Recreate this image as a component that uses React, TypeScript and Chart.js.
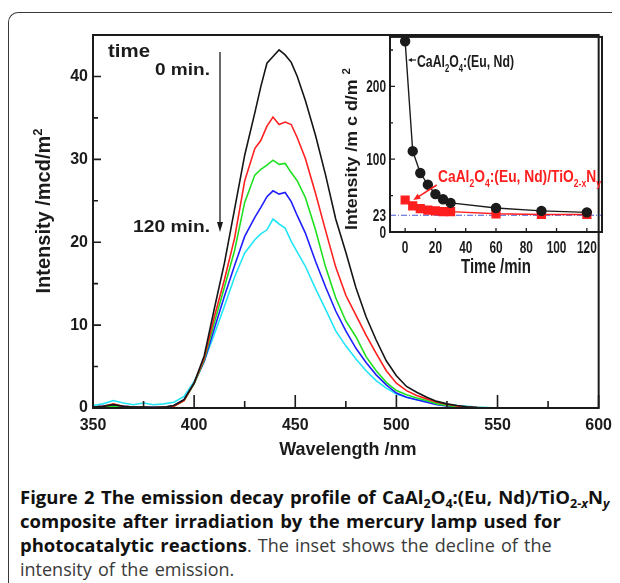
import React, { useEffect, useRef } from "react";
import { Chart, registerables } from "chart.js";

Chart.register(...registerables);

// ---------- main chart data (emission spectra) ----------
const wavelengths = [350, 355, 360, 365, 370, 375, 380, 385, 390, 395, 400, 405, 410, 415, 420, 425, 430, 433, 436, 439, 442, 445, 448, 451, 455, 460, 465, 470, 475, 480, 485, 490, 495, 500, 505, 510, 515, 520, 525, 530, 535, 540, 545, 550];

const blackSpectrum = [0.1, 0.2, 0.4, 0.2, 0.1, 0.1, 0.05, 0.1, 0.3, 1.0, 3.0, 6.3, 12.0, 17.5, 24.0, 30.5, 35.6, 38.8, 41.6, 42.4, 43.2, 42.6, 41.7, 40.0, 37.1, 32.9, 28.1, 22.8, 18.8, 14.5, 11.0, 8.2, 5.7, 3.9, 2.6, 1.9, 1.3, 0.8, 0.5, 0.3, 0.15, 0.05, 0, 0];
const redSpectrum = [0.1, 0.2, 0.5, 0.2, 0.1, 0.05, 0.05, 0.1, 0.2, 0.9, 3.0, 6.0, 11.0, 15.5, 20.5, 27.4, 31.3, 32.3, 34.0, 35.1, 34.2, 34.5, 34.2, 32.6, 30.1, 25.9, 21.4, 17.0, 13.6, 11.2, 8.8, 6.6, 4.5, 3.0, 2.1, 1.5, 1.1, 0.7, 0.45, 0.25, 0.1, 0.05, 0, 0];
const greenSpectrum = [0.05, 0.1, 0.2, 0.1, 0.05, 0.05, 0.05, 0.05, 0.2, 0.9, 2.9, 5.8, 10.3, 14.6, 19.0, 24.8, 28.1, 28.8, 29.3, 29.9, 29.4, 29.5, 28.4, 27.4, 25.4, 21.5, 17.0, 13.3, 10.5, 8.6, 6.2, 4.5, 3.1, 2.1, 1.6, 1.2, 0.9, 0.5, 0.3, 0.15, 0.05, 0, 0, 0];
const blueSpectrum = [0.1, 0.2, 0.3, 0.2, 0.1, 0.1, 0.1, 0.1, 0.3, 1.0, 3.0, 5.6, 9.6, 13.5, 17.2, 20.7, 23.0, 24.2, 25.5, 26.2, 25.8, 26.0, 24.9, 23.2, 21.1, 17.7, 14.6, 11.7, 9.3, 7.2, 5.5, 4.0, 2.8, 1.8, 1.3, 1.0, 0.7, 0.4, 0.25, 0.1, 0.05, 0, 0, 0];
const cyanSpectrum = [0.3, 0.5, 0.9, 0.6, 0.4, 0.6, 0.4, 0.5, 0.7, 1.4, 3.2, 5.7, 8.9, 12.3, 15.8, 18.7, 20.3, 21.0, 21.5, 22.8, 22.2, 21.7, 20.1, 18.8, 17.1, 14.4, 11.9, 9.3, 7.5, 5.9, 4.5, 3.3, 2.4, 1.7, 1.3, 1.0, 0.8, 0.6, 0.45, 0.3, 0.2, 0.1, 0.05, 0];

const spectraColors = ["#161616", "#ff2020", "#1fe01f", "#1f1fff", "#22e6f5"];

const xTickValues = [350, 400, 450, 500, 550, 600];
const xMinorTicks = [375, 425, 475, 525, 575];
const yTickValues = [0, 10, 20, 30, 40];
const yMinorTicks = [5, 15, 25, 35];

// ---------- inset data (intensity decline) ----------
const insetTimes = [0, 5, 10, 15, 20, 25, 30, 60, 90, 120];
const undopedIntensity = [262, 111, 81, 65, 52, 45, 40, 33, 29, 27];
const compositeIntensity = [44, 36, 32, 30, 29, 28, 28, 25, 24, 24];
const referenceLevel = 23;
const insetXTicks = [0, 20, 40, 60, 80, 100, 120];
const insetYTicks = [0, 23, 100, 200];
const insetYMajor = [100, 200];
const insetYMinor = [50, 150, 250];

const INK = "#1b1b1b";
const FONT = '"Liberation Sans", Arial, Helvetica, sans-serif';

type Part = [string, number]; // 0 normal, 1 subscript, 2 superscript

interface RichOpts {
  size: number;
  color: string;
  weight?: string;
  align?: "left" | "center" | "right";
  fit?: number;
  sx?: number;
  rotate?: number;
  spacing?: number;
}

function drawRich(ctx: CanvasRenderingContext2D, parts: Part[], x: number, y: number, o: RichOpts) {
  const w = o.weight ?? "bold";
  const f = (k: number) => `${w} ${k === 0 ? o.size : Math.round(o.size * 0.65)}px ${FONT}`;
  ctx.save();
  (ctx as any).letterSpacing = `${o.spacing ?? 0}px`;
  let nat = 0;
  for (const [t, k] of parts) {
    ctx.font = f(k);
    nat += ctx.measureText(t).width;
  }
  const sx = o.fit ? o.fit / nat : o.sx ?? 1;
  ctx.translate(x, y);
  if (o.rotate) ctx.rotate(o.rotate);
  ctx.scale(sx, 1);
  let cx = o.align === "center" ? -nat / 2 : o.align === "right" ? -nat : 0;
  ctx.fillStyle = o.color;
  ctx.textBaseline = "alphabetic";
  ctx.textAlign = "left";
  for (const [t, k] of parts) {
    ctx.font = f(k);
    const dy = k === 1 ? o.size * 0.3 : k === 2 ? -o.size * 0.42 : 0;
    ctx.fillText(t, cx, dy);
    cx += ctx.measureText(t).width;
  }
  ctx.restore();
}

function arrowHead(ctx: CanvasRenderingContext2D, fx: number, fy: number, tx: number, ty: number, len: number, half: number) {
  const a = Math.atan2(ty - fy, tx - fx);
  ctx.beginPath();
  ctx.moveTo(tx, ty);
  ctx.lineTo(tx - len * Math.cos(a) + half * Math.sin(a), ty - len * Math.sin(a) - half * Math.cos(a));
  ctx.lineTo(tx - len * Math.cos(a) - half * Math.sin(a), ty - len * Math.sin(a) + half * Math.cos(a));
  ctx.closePath();
  ctx.fill();
}

const mainDecor = {
  id: "mainDecor",
  afterDraw(chart: any) {
    const { ctx, chartArea: a, scales } = chart;
    const x = scales.x;
    const y = scales.y;
    ctx.save();
    ctx.strokeStyle = INK;
    ctx.lineWidth = 2;
    ctx.strokeRect(a.left, a.top, a.right - a.left, a.bottom - a.top);
    ctx.lineWidth = 1.6;
    ctx.beginPath();
    xTickValues.forEach((v) => {
      const p = x.getPixelForValue(v);
      ctx.moveTo(p, a.bottom);
      ctx.lineTo(p, a.bottom - 13);
    });
    xMinorTicks.forEach((v) => {
      const p = x.getPixelForValue(v);
      ctx.moveTo(p, a.bottom);
      ctx.lineTo(p, a.bottom - 7);
    });
    yTickValues.forEach((v) => {
      const p = y.getPixelForValue(v);
      ctx.moveTo(a.left, p);
      ctx.lineTo(a.left + 8, p);
    });
    yMinorTicks.forEach((v) => {
      const p = y.getPixelForValue(v);
      ctx.moveTo(a.left, p);
      ctx.lineTo(a.left + 5, p);
    });
    ctx.stroke();

    // axis titles
    drawRich(ctx, [["Wavelength /nm", 0]], (a.left + a.right) / 2 + 2, 442, { size: 18, color: INK, align: "center" });
    drawRich(ctx, [["Intensity /mcd/m", 0], ["2", 2]], 41, 198, { size: 20, color: INK, align: "center", rotate: -Math.PI / 2 });

    // time annotation
    drawRich(ctx, [["time", 0]], 99, 44, { size: 18, color: INK, fit: 42 });
    drawRich(ctx, [["0 min.", 0]], 146, 62, { size: 17, color: INK, fit: 55 });
    drawRich(ctx, [["120 min.", 0]], 124, 219, { size: 17, color: INK, fit: 77 });
    ctx.strokeStyle = INK;
    ctx.fillStyle = INK;
    ctx.lineWidth = 1.3;
    ctx.beginPath();
    ctx.moveTo(211, 39);
    ctx.lineTo(211, 212);
    ctx.stroke();
    arrowHead(ctx, 211, 39, 211, 219, 10, 3);
    ctx.restore();
  },
};

const insetDecor = {
  id: "insetDecor",
  afterDraw(chart: any) {
    const { ctx, chartArea: a, scales } = chart;
    const x = scales.x;
    const y = scales.y;
    ctx.save();
    ctx.strokeStyle = INK;
    ctx.lineWidth = 2;
    ctx.strokeRect(a.left, a.top, a.right - a.left, a.bottom - a.top);
    ctx.lineWidth = 1.3;
    ctx.beginPath();
    insetXTicks.forEach((v) => {
      const p = x.getPixelForValue(v);
      ctx.moveTo(p, a.bottom);
      ctx.lineTo(p, a.bottom - 4);
    });
    insetYMajor.forEach((v) => {
      const p = y.getPixelForValue(v);
      ctx.moveTo(a.left, p);
      ctx.lineTo(a.left + 5, p);
    });
    insetYMinor.forEach((v) => {
      const p = y.getPixelForValue(v);
      ctx.moveTo(a.left, p);
      ctx.lineTo(a.left + 3, p);
    });
    ctx.stroke();

    insetXTicks.forEach((v) => {
      drawRich(ctx, [[String(v), 0]], x.getPixelForValue(v), a.bottom + 21, { size: 16, color: INK, align: "center", sx: 0.74 });
    });
    insetYTicks.forEach((v) => {
      drawRich(ctx, [[String(v), 0]], a.left - 4, y.getPixelForValue(v) + 6, { size: 16, color: INK, align: "right", sx: 0.74 });
    });

    drawRich(ctx, [["Time /min", 0]], (a.left + a.right) / 2, 243, { size: 20, color: INK, align: "center", fit: 70 });
    drawRich(ctx, [["Intensity /m c d/m ", 0], ["2", 2]], 22, 119, { size: 17, color: INK, align: "center", rotate: -Math.PI / 2, fit: 162 });

    // black annotation
    ctx.strokeStyle = INK;
    ctx.fillStyle = INK;
    ctx.lineWidth = 1.2;
    ctx.beginPath();
    ctx.moveTo(81, 30);
    ctx.lineTo(76, 30);
    ctx.stroke();
    arrowHead(ctx, 81, 30, 73, 30, 4, 2);
    drawRich(ctx, [["CaAl", 0], ["2", 1], ["O", 0], ["4", 1], [":(Eu, Nd)", 0]], 82, 37, { size: 16, color: INK, fit: 97 });

    // red annotation
    ctx.strokeStyle = "#ff1e1e";
    ctx.fillStyle = "#ff1e1e";
    ctx.lineWidth = 1.5;
    ctx.beginPath();
    ctx.moveTo(101.7, 155);
    ctx.lineTo(82, 167.6);
    ctx.stroke();
    arrowHead(ctx, 101.7, 155, 78.3, 170, 7, 3);
    drawRich(ctx, [["CaAl", 0], ["2", 1], ["O", 0], ["4", 1], [":(Eu, Nd)/TiO", 0], ["2-x", 1], ["N", 0], ["y", 1]], 103, 152, { size: 16, color: "#ff1e1e", fit: 163 });
    ctx.restore();
  },
};

export default function App() {
  const mainRef = useRef<HTMLCanvasElement>(null);
  const insetRef = useRef<HTMLCanvasElement>(null);

  useEffect(() => {
    document.documentElement.style.overflow = "hidden";
    const series = [blackSpectrum, redSpectrum, greenSpectrum, blueSpectrum, cyanSpectrum];
    const tickFont = { family: FONT, size: 16, weight: "bold" as const };
    const main = new Chart(mainRef.current!, {
      type: "line",
      data: {
        datasets: series.map((vals, si) => ({
          data: wavelengths.map((w, i) => ({ x: w, y: vals[i] })),
          borderColor: spectraColors[si],
          borderWidth: 1.6,
          pointRadius: 0,
          fill: false,
          tension: 0,
        })),
      },
      options: {
        responsive: false,
        animation: false,
        events: [],
        layout: { padding: { left: 0, top: 22, right: 18, bottom: 0 } },
        plugins: { legend: { display: false }, tooltip: { enabled: false } },
        scales: {
          x: {
            type: "linear",
            min: 350,
            max: 600,
            afterBuildTicks: (s: any) => {
              s.ticks = xTickValues.map((v) => ({ value: v }));
            },
            afterFit: (s: any) => {
              s.height = 55;
            },
            grid: { display: false, drawTicks: false },
            border: { display: false },
            ticks: { font: tickFont, color: INK, padding: 8, maxRotation: 0, autoSkip: false },
          },
          y: {
            type: "linear",
            min: 0,
            max: 45,
            afterBuildTicks: (s: any) => {
              s.ticks = yTickValues.map((v) => ({ value: v }));
            },
            afterFit: (s: any) => {
              s.width = 84;
            },
            grid: { display: false, drawTicks: false },
            border: { display: false },
            ticks: { font: tickFont, color: INK, padding: 5, autoSkip: false },
          },
        },
      },
      plugins: [mainDecor],
    });

    const inset = new Chart(insetRef.current!, {
      type: "line",
      data: {
        datasets: [
          {
            data: insetTimes.map((t, i) => ({ x: t, y: undopedIntensity[i] })),
            borderColor: INK,
            backgroundColor: INK,
            borderWidth: 1.4,
            pointRadius: 4.5,
            pointStyle: "circle",
            tension: 0,
          },
          {
            data: insetTimes.map((t, i) => ({ x: t, y: compositeIntensity[i] })),
            borderColor: "#ff1e1e",
            backgroundColor: "#ff1e1e",
            borderWidth: 1.4,
            pointRadius: 5.5,
            pointStyle: "rect",
            tension: 0,
          },
          {
            data: [
              { x: -10, y: referenceLevel },
              { x: 130, y: referenceLevel },
            ],
            borderColor: "#4a5ad8",
            borderWidth: 1.2,
            borderDash: [6, 2, 1, 2],
            pointRadius: 0,
          },
        ],
      },
      options: {
        responsive: false,
        animation: false,
        events: [],
        layout: { padding: { left: 55, top: 5, right: 8, bottom: 48 } },
        plugins: { legend: { display: false }, tooltip: { enabled: false } },
        scales: {
          x: { type: "linear", display: false, min: -10, max: 130 },
          y: { type: "linear", display: false, min: 0, max: 268 },
        },
      },
      plugins: [insetDecor],
    });

    return () => {
      main.destroy();
      inset.destroy();
    };
  }, []);

  const sub: React.CSSProperties = { fontSize: "0.68em", verticalAlign: "-0.3em", lineHeight: 0 };
  const bold: React.CSSProperties = { fontWeight: 700, color: "#111", fontSize: 18.5 };

  return (
    <div
      style={{
        marginTop: 4,
        borderTop: "1px solid #3a3a3a",
        borderLeft: "1px solid #3a3a3a",
        borderTopLeftRadius: 10,
        width: 620,
        height: 580,
        position: "relative",
      }}
    >
      <canvas ref={mainRef} width={611} height={450} style={{ position: "absolute", left: 0, top: 0, display: "block" }} />
      <canvas ref={insetRef} width={275} height={250} style={{ position: "absolute", left: 326, top: 17, display: "block" }} />
      <div
        style={{
          position: "absolute",
          left: 11,
          top: 472,
          fontFamily: '"Open Sans", "Noto Sans", sans-serif',
          fontSize: 18,
          lineHeight: "24px",
          wordSpacing: 1.5,
          color: "#3a3a3a",
          whiteSpace: "nowrap",
        }}
      >
        <span style={bold}>
          Figure 2 The emission decay profile of CaAl<sub style={sub}>2</sub>O<sub style={sub}>4</sub>:(Eu, Nd)/TiO
          <sub style={sub}>
            2-<i>x</i>
          </sub>
          N
          <sub style={sub}>
            <i>y</i>
          </sub>
        </span>
        <br />
        <span style={bold}>composite after irradiation by the mercury lamp used for</span>
        <br />
        <span style={bold}>photocatalytic reactions</span>. The inset shows the decline of the
        <br />
        intensity of the emission.
      </div>
    </div>
  );
}
